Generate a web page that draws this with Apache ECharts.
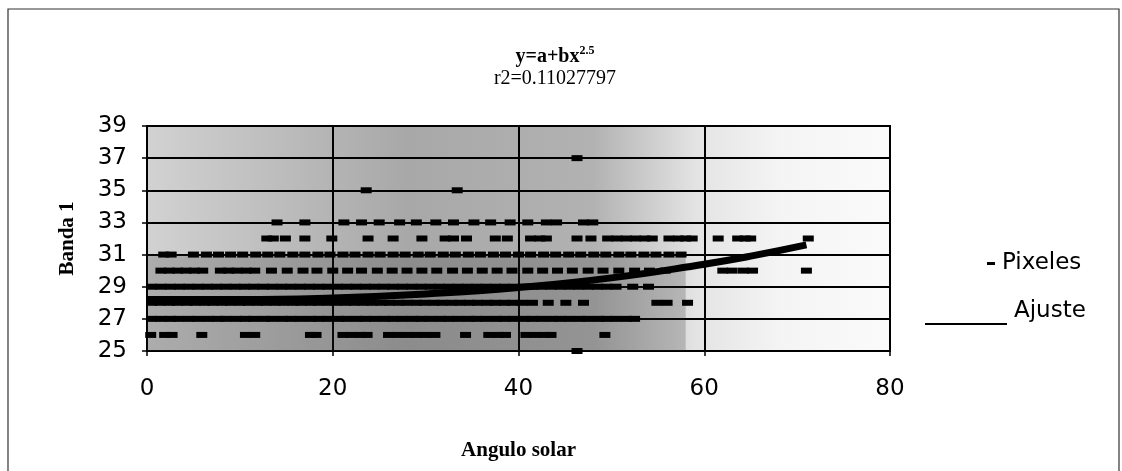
<!DOCTYPE html>
<html>
<head>
<meta charset="utf-8">
<script src="https://cdn.jsdelivr.net/npm/echarts@6/dist/echarts.min.js"></script>
<style>
  html, body { margin: 0; padding: 0; background: #fff; }
  #chart { width: 1122px; height: 471px; }
</style>
</head>
<body>
<div id="chart"></div>
<script>
// Pixel samples of band 1 against solar angle, grouped by band value
const pixeles25 = [46.3];
const pixeles26 = [0.4, 1.9, 2.7, 5.9, 10.6, 11.6, 17.6, 18.2, 21.1, 22.0, 23.0, 23.7, 26.0, 27.0, 28.0, 29.0, 30.0, 31.0, 34.3, 36.8, 37.8, 38.6, 40.8, 41.8, 42.8, 43.5, 49.3];
const pixeles27 = [0.5, 1.5, 2.5, 3.4, 4.5, 5.5, 6.6, 7.6, 8.5, 9.6, 10.6, 11.5, 12.6, 13.5, 14.6, 15.5, 16.5, 17.6, 18.5, 19.5, 20.6, 21.5, 22.6, 23.5, 24.5, 25.6, 26.5, 27.5, 28.6, 29.5, 30.5, 31.6, 32.5, 33.5, 34.6, 35.5, 36.5, 37.6, 38.5, 39.5, 40.6, 41.5, 42.5, 43.6, 44.5, 45.5, 46.6, 47.5, 48.6, 49.5, 50.5, 51.6, 52.5];
const pixeles28 = [0.5, 1.4, 2.4, 3.3, 4.3, 5.2, 6.2, 7.1, 8.1, 9.0, 10.0, 10.9, 11.9, 12.8, 13.8, 14.7, 15.7, 16.6, 17.6, 18.5, 19.5, 20.4, 21.4, 22.3, 23.3, 24.2, 25.2, 26.1, 27.1, 28.0, 29.0, 29.9, 30.9, 31.8, 32.8, 33.7, 34.7, 35.6, 36.6, 37.5, 38.5, 39.4, 40.4, 41.5, 43.2, 45.1, 47.0, 54.9, 56.0, 58.2];
const pixeles29 = [0.5, 1.5, 2.5, 3.5, 4.5, 5.5, 6.5, 7.5, 8.5, 9.5, 10.5, 11.5, 12.5, 13.5, 14.5, 15.5, 16.5, 17.5, 18.5, 19.5, 20.5, 21.5, 22.5, 23.5, 24.5, 25.5, 26.5, 27.5, 28.5, 29.5, 30.5, 31.5, 32.5, 33.5, 34.5, 35.5, 36.5, 37.5, 38.5, 39.5, 40.5, 41.5, 42.5, 43.5, 44.5, 45.5, 46.5, 47.5, 48.5, 49.5, 50.5, 52.3, 54.0];
const pixeles30 = [1.5, 2.4, 3.3, 4.2, 5.1, 6.0, 7.9, 8.8, 9.7, 10.7, 11.6, 13.4, 15.1, 16.8, 18.3, 20.0, 21.6, 23.1, 24.8, 26.4, 28.0, 29.6, 31.2, 32.9, 34.5, 36.1, 37.7, 39.3, 41.0, 42.6, 44.2, 45.8, 47.5, 49.1, 50.8, 52.5, 54.1, 55.8, 62.0, 63.0, 64.2, 65.2, 71.0];
const pixeles31 = [1.8, 2.6, 5.0, 6.4, 7.7, 9.0, 10.3, 11.7, 13.0, 14.3, 15.7, 17.0, 18.4, 19.7, 21.1, 22.4, 23.8, 25.1, 26.5, 27.8, 29.2, 30.5, 31.9, 33.2, 34.6, 35.9, 37.3, 38.6, 40.0, 41.3, 42.7, 44.0, 45.4, 46.7, 48.1, 49.4, 50.8, 52.1, 53.5, 54.8, 56.2, 57.5];
const pixeles32 = [12.9, 13.6, 14.9, 17.0, 19.9, 23.8, 26.5, 29.6, 32.1, 33.0, 34.4, 37.5, 38.8, 41.3, 42.3, 43.0, 46.3, 47.8, 49.6, 50.6, 51.6, 52.6, 53.6, 54.4, 56.2, 57.2, 58.0, 58.7, 61.5, 63.6, 64.4, 65.0, 71.2];
const pixeles33 = [14.0, 17.0, 21.2, 23.1, 25.0, 27.2, 29.0, 31.1, 33.0, 35.2, 37.0, 39.1, 41.0, 43.0, 44.1, 47.0, 48.0];
const pixeles35 = [23.6, 33.4];
const pixeles37 = [46.3];

// Fitted curve y = a + b x^2.5, sampled along the angle range
const ajusteX = [0, 10, 20, 30, 40, 50, 60, 65, 71];
const ajusteY = [28.2, 28.2, 28.3, 28.55, 28.95, 29.55, 30.4, 30.9, 31.6];

const bandRows = [
  [25, pixeles25], [26, pixeles26], [27, pixeles27], [28, pixeles28],
  [29, pixeles29], [30, pixeles30], [31, pixeles31], [32, pixeles32],
  [33, pixeles33], [35, pixeles35], [37, pixeles37]
];
const pixelData = [];
bandRows.forEach(([band, xs]) => xs.forEach(x => pixelData.push([x, band])));
const fitData = ajusteX.map((x, i) => [x, ajusteY[i]]);

const serif = '"Liberation Serif", "DejaVu Serif", serif';
const sans = '"DejaVu Sans", "Liberation Sans", sans-serif';

const chart = echarts.init(document.getElementById('chart'), null, { renderer: 'canvas' });
chart.setOption({
  animation: false,
  backgroundColor: '#ffffff',
  title: {
    left: 550,
    top: 40,
    textAlign: 'center',
    text: '{m|y=a+bx}{s|2.5}',
    textStyle: {
      rich: {
        m: { fontFamily: serif, fontWeight: 'bold', fontSize: 20, color: '#000', lineHeight: 24 },
        s: { fontFamily: serif, fontWeight: 'bold', fontSize: 12, color: '#000', verticalAlign: 'top', lineHeight: 12 }
      }
    },
    subtext: 'r2=0.11027797',
    subtextStyle: { fontFamily: serif, fontSize: 20, color: '#000' },
    itemGap: 2
  },
  legend: [
    {
      data: ['Pixeles'],
      left: 982, top: 247,
      icon: 'rect', itemWidth: 8, itemHeight: 3, itemGap: 0,
      textStyle: { fontFamily: sans, fontSize: 23, color: '#000', padding: [0, 0, 0, 2] }
    },
    {
      // underline-style key: the stroke sits at the bottom of a taller icon box
      data: ['Ajuste'],
      left: 920, top: 292,
      icon: 'path://M0,0 M0,26 L82,26 L82,28 L0,28 Z',
      itemWidth: 82, itemHeight: 28, itemGap: 0,
      textStyle: { fontFamily: sans, fontSize: 23, color: '#000', padding: [0, 0, 0, 2] }
    }
  ],
  grid: {
    left: 147, top: 126, right: 232, bottom: 120,
    show: true,
    borderColor: '#000', borderWidth: 2,
    backgroundColor: new echarts.graphic.LinearGradient(0, 0, 1, 0, [
      { offset: 0, color: '#d2d2d2' },
      { offset: 0.15, color: '#c0c0c0' },
      { offset: 0.35, color: '#a8a8a8' },
      { offset: 0.6, color: '#b2b2b2' },
      { offset: 0.74, color: '#e4e4e4' },
      { offset: 0.85, color: '#f4f4f4' },
      { offset: 1, color: '#fbfbfb' }
    ])
  },
  xAxis: {
    type: 'value', min: 0, max: 80, interval: 20,
    name: 'Angulo solar', nameLocation: 'middle', nameGap: 89,
    nameTextStyle: { fontFamily: serif, fontWeight: 'bold', fontSize: 21, color: '#000' },
    axisLine: { show: true, onZero: false, lineStyle: { color: '#000', width: 2 } },
    axisTick: { show: true, length: 5, lineStyle: { color: '#000', width: 1.5 } },
    axisLabel: { margin: 27, fontFamily: sans, fontSize: 23, color: '#000' },
    splitLine: { show: true, lineStyle: { color: '#000', width: 2 } }
  },
  yAxis: {
    type: 'value', min: 25, max: 39, interval: 2,
    name: 'Banda 1', nameLocation: 'middle', nameGap: 69, nameRotate: 90,
    nameTextStyle: { fontFamily: serif, fontWeight: 'bold', fontSize: 21, color: '#000' },
    axisLine: { show: true, onZero: false, lineStyle: { color: '#000', width: 2 } },
    axisTick: { show: true, length: 5, lineStyle: { color: '#000', width: 1.5 } },
    axisLabel: { margin: 20, fontFamily: sans, fontSize: 23, color: '#000' },
    splitLine: { show: true, lineStyle: { color: '#000', width: 2 } }
  },
  series: [
    {
      name: 'Ajuste',
      type: 'line',
      data: fitData,
      smooth: true,
      showSymbol: false,
      lineStyle: { color: '#000', width: 7 },
      itemStyle: { color: '#000' },
      // darker shading over the densely sampled lower bands
      markArea: {
        silent: true,
        itemStyle: { color: 'rgba(40,40,40,0.22)' },
        data: [[{ coord: [0, 25] }, { coord: [58, 31] }]]
      },
      z: 2
    },
    {
      name: 'Pixeles',
      type: 'scatter',
      data: pixelData,
      symbol: 'rect',
      symbolSize: [11, 6],
      itemStyle: { color: '#000', opacity: 1 },
      z: 5
    }
  ],
  graphic: [
    {
      type: 'rect', silent: true, z: -1,
      shape: { x: 8, y: 9, width: 1111, height: 480 },
      style: { fill: null, stroke: '#333', lineWidth: 1.2 }
    }
  ]
});
</script>
</body>
</html>
